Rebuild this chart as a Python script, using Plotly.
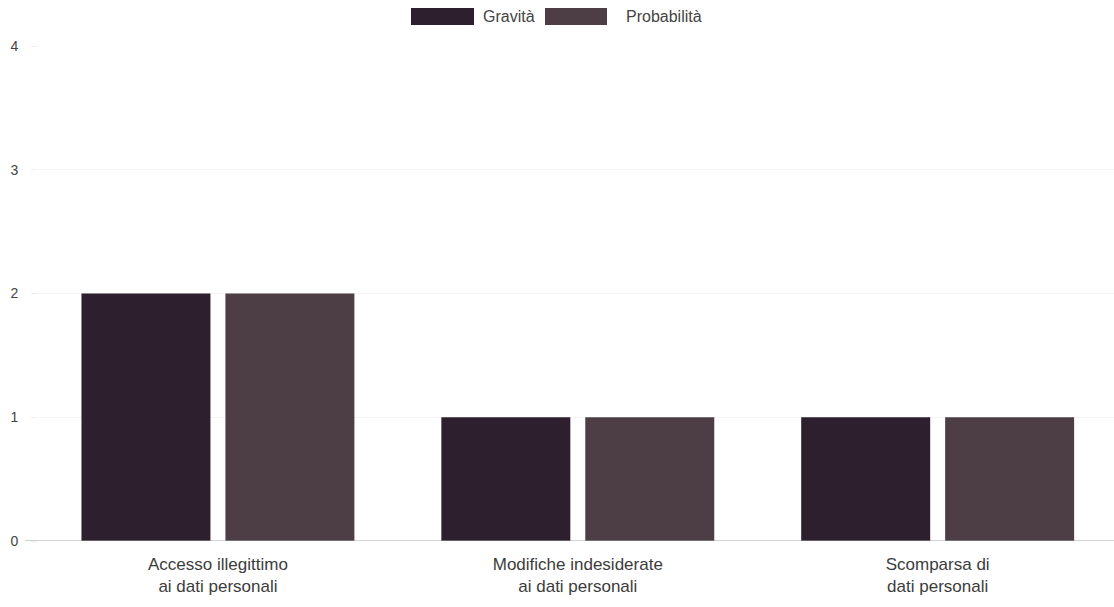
import plotly.graph_objects as go

# Risk scenarios and their scores
categories = [
    "Accesso illegittimo<br>ai dati personali",
    "Modifiche indesiderate<br>ai dati personali",
    "Scomparsa di<br>dati personali",
]
series_names = ["Gravità", "Probabilità"]
gravita = [2, 1, 1]
probabilita = [2, 1, 1]
y_ticks = [0, 1, 2, 3, 4]

colors = ["#2e1f2e", "#4c3e44"]
values = [gravita, probabilita]

fig = go.Figure()
for name, vals, col in zip(series_names, values, colors):
    fig.add_trace(go.Bar(
        x=categories, y=vals, name=name,
        marker=dict(color=col, line=dict(width=0)),
        showlegend=False,
    ))

W, H = 1114, 607
L, T, B = 38, 46, 66
PW, PH = W - L, H - T - B


def px(x):
    return (x - L) / PW


def py(y):
    return 1 + (T - y) / PH


# Legend drawn as wide swatches with labels at the top
legend_items = [
    (series_names[0], colors[0], 411, 474, 481),
    (series_names[1], colors[1], 545, 607, 624),
]
for name, col, x0, x1, tx in legend_items:
    fig.add_shape(type="rect", xref="paper", yref="paper",
                  x0=px(x0), x1=px(x1), y0=py(25), y1=py(8),
                  fillcolor=col, line=dict(width=0))
    fig.add_annotation(xref="paper", yref="paper",
                       x=px(tx), y=py(16.5),
                       text=name, showarrow=False, xanchor="left", yanchor="middle",
                       font=dict(size=16, color="#444444"))

# Baseline running slightly past the value axis
fig.add_shape(type="line", xref="paper", yref="y",
              x0=px(25), x1=1, y0=0, y1=0,
              line=dict(color="#a2a2a2", width=1))

fig.update_layout(
    width=W, height=H,
    margin=dict(l=L, r=0, t=T, b=B),
    paper_bgcolor="white", plot_bgcolor="white",
    barmode="group", bargap=0.2, bargroupgap=0.104,
    font=dict(family="Liberation Sans, Arial, sans-serif", size=12, color="#444444"),
)
fig.update_xaxes(
    range=[-0.5, 2.49],
    showline=False, showgrid=False, ticks="", ticklabelstandoff=11,
    tickfont=dict(size=17, color="#3c3c3c"),
)
fig.update_yaxes(
    range=[0, 4], tickvals=y_ticks,
    showgrid=True, gridcolor="#f7f2f4", gridwidth=1,
    zeroline=False, showline=False,
    ticks="outside", ticklen=6, tickcolor="#efeaec",
    ticklabelstandoff=10,
    tickfont=dict(size=14, color="#444444"),
)

fig.write_html("out.html")
